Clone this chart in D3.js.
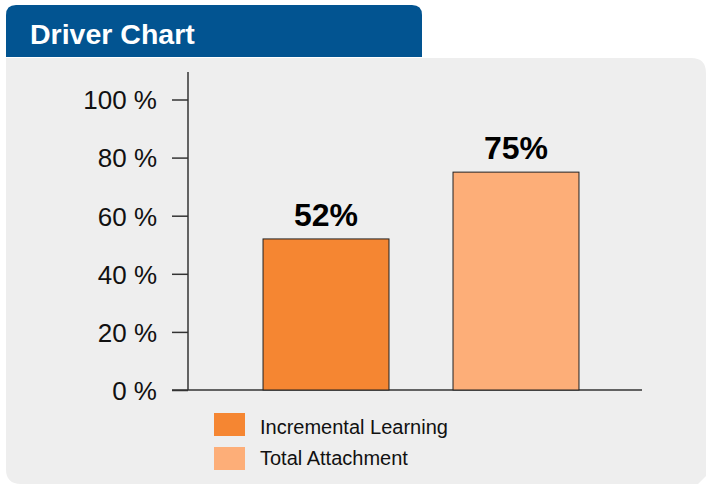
<!DOCTYPE html>
<html>
<head>
<meta charset="utf-8">
<script src="https://cdn.jsdelivr.net/npm/d3@7"></script>
<style>
  body { margin: 0; background: #ffffff; }
  svg { display: block; font-family: "Liberation Sans", Arial, sans-serif; }
</style>
</head>
<body>
<div id="chart"></div>
<script>
// chart data
const categories = ['Incremental Learning', 'Total Attachment'];
const values = [52, 75];
const colors = ['#f58632', '#fdae78'];
const tickValues = [0, 20, 40, 60, 80, 100];

const W = 706, H = 484;

const svg = d3.select('#chart')
    .append('svg')
    .attr('width', W)
    .attr('height', H);

// grey panel with rounded corners (top right, bottom left), chamfered bottom right
const panel = d3.path();
panel.moveTo(6, 58);
panel.lineTo(691, 58);
panel.quadraticCurveTo(706, 58, 706, 73);
panel.lineTo(706, 476);
panel.lineTo(698, 484);
panel.lineTo(21, 484);
panel.quadraticCurveTo(6, 484, 6, 469);
panel.closePath();
svg.append('path').attr('d', panel.toString()).attr('fill', '#eeeeee');

// blue header tab
const tab = d3.path();
tab.moveTo(6, 57);
tab.lineTo(6, 15);
tab.quadraticCurveTo(6, 5, 16, 5);
tab.lineTo(412, 5);
tab.quadraticCurveTo(422, 5, 422, 15);
tab.lineTo(422, 57);
tab.closePath();
svg.append('path').attr('d', tab.toString()).attr('fill', '#025491');

svg.append('text')
    .attr('x', 30)
    .attr('y', 44)
    .attr('fill', '#ffffff')
    .attr('font-weight', 'bold')
    .attr('font-size', '28.5px')
    .text('Driver Chart');

// scales
const y = d3.scaleLinear()
    .domain([0, 100])
    .range([390, 99.5]);

const x = d3.scaleBand()
    .domain(categories)
    .range([199, 643])
    .padding(0.337);

// y axis
const yAxis = svg.append('g')
    .attr('transform', 'translate(188,0)')
    .call(d3.axisLeft(y).tickValues(tickValues).tickSize(16).tickPadding(15).tickFormat(d => d + ' %'));
yAxis.select('.domain').remove();
yAxis.selectAll('.tick line').attr('stroke', '#333').attr('stroke-width', 1.5);
yAxis.selectAll('.tick text')
    .attr('font-size', '26px')
    .attr('font-family', '"Liberation Sans", Arial, sans-serif')
    .attr('fill', '#111')
    .attr('dy', '0.36em');

// axis lines
svg.append('line')
    .attr('x1', 188).attr('x2', 188)
    .attr('y1', 72).attr('y2', 390)
    .attr('stroke', '#333').attr('stroke-width', 1.5);
svg.append('line')
    .attr('x1', 172).attr('x2', 642)
    .attr('y1', 390).attr('y2', 390)
    .attr('stroke', '#333').attr('stroke-width', 1.5);

// bars
svg.append('g')
    .selectAll('rect')
    .data(categories)
    .enter()
    .append('rect')
    .attr('x', d => x(d))
    .attr('y', (d, i) => y(values[i]))
    .attr('width', x.bandwidth())
    .attr('height', (d, i) => y(0) - y(values[i]))
    .attr('fill', (d, i) => colors[i])
    .attr('stroke', '#222')
    .attr('stroke-width', 1);

// value labels
svg.append('g')
    .selectAll('text')
    .data(categories)
    .enter()
    .append('text')
    .attr('x', d => x(d) + x.bandwidth() / 2)
    .attr('y', (d, i) => y(values[i]) - 13)
    .attr('text-anchor', 'middle')
    .attr('font-weight', 'bold')
    .attr('font-size', '32px')
    .attr('fill', '#000')
    .text((d, i) => values[i] + '%');

// legend
const legend = svg.append('g');

legend.selectAll('rect')
    .data(categories)
    .enter()
    .append('rect')
    .attr('x', 214)
    .attr('y', (d, i) => 413 + i * 34)
    .attr('width', 31)
    .attr('height', 23)
    .attr('fill', (d, i) => colors[i]);

legend.selectAll('text')
    .data(categories)
    .enter()
    .append('text')
    .attr('x', 260)
    .attr('y', (d, i) => 434 + i * 31)
    .attr('font-size', '20px')
    .attr('fill', '#111')
    .text(d => d);
</script>
</body>
</html>
